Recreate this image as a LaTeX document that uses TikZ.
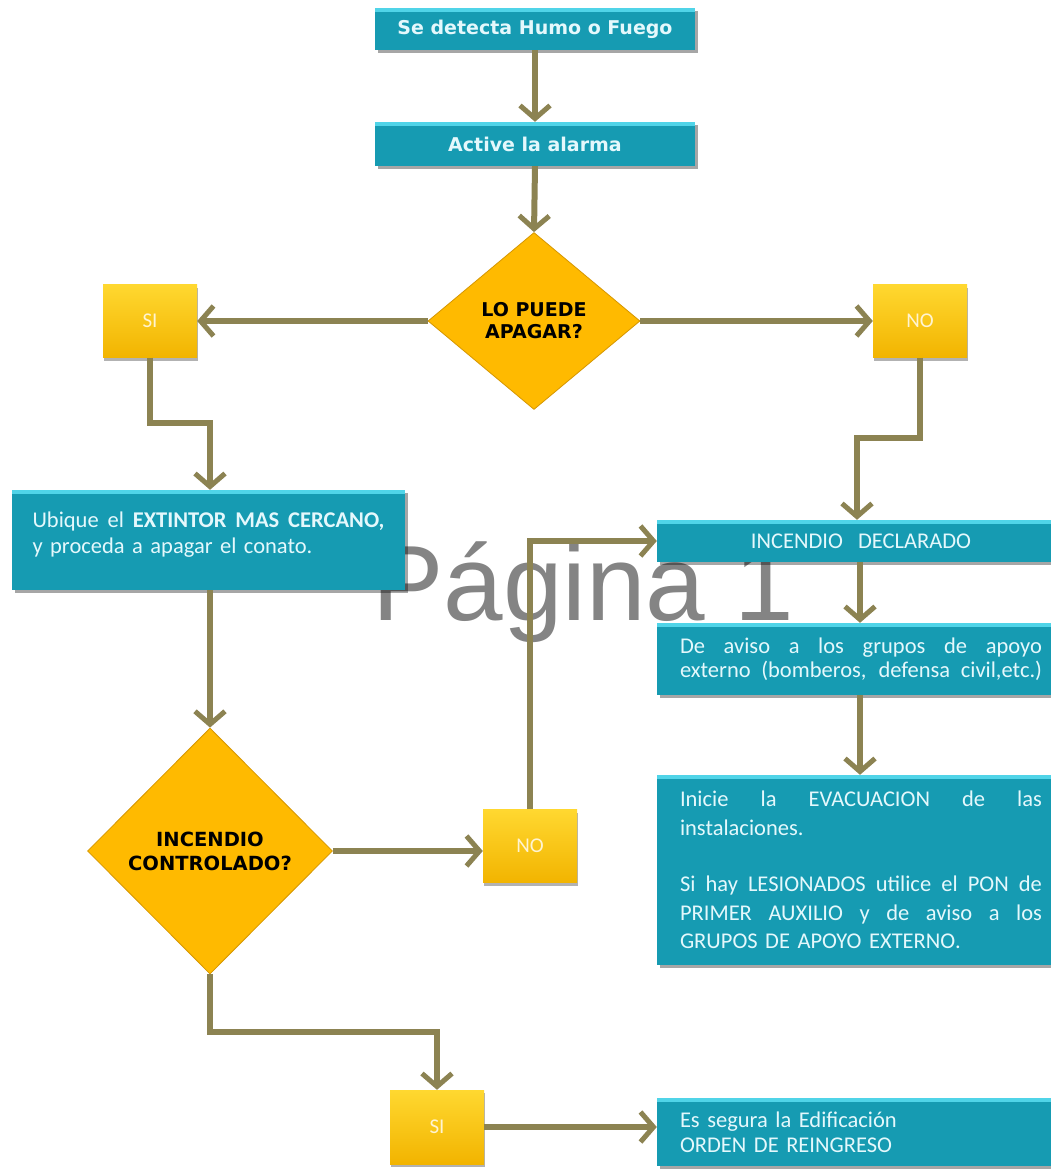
\documentclass[tikz,border=0pt]{standalone}
\usepackage{fontspec}
\setmainfont{Carlito}
\newfontfamily\titlefont{DejaVu Sans}
\newfontfamily\wmfont{Liberation Sans}
\usetikzlibrary{shapes.geometric,arrows.meta,shadows}
\definecolor{tealbox}{RGB}{22,155,178}
\definecolor{tealtop}{RGB}{80,212,232}
\definecolor{yeltop}{RGB}{255,216,48}
\definecolor{yelbot}{RGB}{242,180,0}
\definecolor{diafill}{RGB}{255,186,0}
\definecolor{diaedge}{RGB}{214,150,0}
\definecolor{olive}{RGB}{140,131,82}
\definecolor{paletext}{RGB}{228,248,252}
\definecolor{creamtext}{RGB}{255,244,210}
\definecolor{wmgray}{RGB}{132,132,132}
\newcommand{\jline}[2]{\leavevmode\hbox to #1{\spaceskip=0.22em plus 1fil\relax #2}}
\tikzset{
  tealnode/.style={fill=tealbox, inner sep=0pt, text=paletext,
    path picture={\fill[tealtop] (path picture bounding box.north west) rectangle ([yshift=-4pt]path picture bounding box.north east);},
    drop shadow={shadow xshift=3pt, shadow yshift=-3pt, opacity=0.35, fill=black}},
  titlebox/.style={tealnode, minimum width=320pt, font=\titlefont\bfseries\fontsize{19}{22}\selectfont},
  bodybox/.style={tealnode, minimum width=408pt, text width=362pt, align=left,
    font=\fontsize{22.5}{24}\selectfont},
  yesno/.style={top color=yeltop, bottom color=yelbot, minimum width=94pt, minimum height=73pt,
    inner sep=0pt, text=creamtext, font=\fontsize{21}{22}\selectfont,
    drop shadow={shadow xshift=1pt, shadow yshift=-3pt, opacity=0.3, fill=black}},
  decision/.style={diamond, fill=diafill, draw=diaedge, line width=0.8pt, inner sep=0pt,
    align=center, text=black, font=\titlefont\bfseries\fontsize{19.5}{24}\selectfont},
  arr/.style={draw=olive, line width=6pt, -{Straight Barb[length=13pt,width=30pt,line width=5pt]}}
}
\begin{document}
\begin{tikzpicture}[x=1pt,y=-1pt]
\path[use as bounding box, fill=white] (0,0) rectangle (1051,1170);

% watermark
\node[anchor=base west, inner sep=0pt, text=wmgray, font=\wmfont\fontsize{107}{107}\selectfont] (wm) at (372,620) {Página 1};

% boxes
\node[titlebox, minimum height=42pt] (top) at (535,29) {Se detecta Humo o Fuego};
\node[titlebox, minimum height=44pt] (alarm) at (535,144) {Active la alarma};
\node[decision, minimum width=212pt, minimum height=177pt, font=\titlefont\bfseries\fontsize{19}{22}\selectfont] (d1) at (534,321) {LO PUEDE\\APAGAR?};
\node[yesno] (si1) at (150,321) {SI};
\node[yesno] (no1) at (920,321) {NO};

\node[bodybox, minimum width=393pt, minimum height=100pt, text width=352pt,
      font=\fontsize{22.5}{26}\selectfont] (ubique) at (208.5,540)
  {\jline{352pt}{Ubique el \textbf{EXTINTOR MAS CERCANO,}}\\ y proceda a apagar el conato.\\[-12pt]\mbox{}};
\node[decision, minimum width=245pt, minimum height=246pt] (d2) at (210,851) {INCENDIO\\CONTROLADO?};
\node[yesno] (no2) at (530,846) {NO};

\node[bodybox, minimum height=42pt, align=center] (declarado) at (861,541) {INCENDIO\ \ DECLARADO};
\node[bodybox, minimum height=72pt] (aviso) at (861,659)
  {\jline{362pt}{De aviso a los grupos de apoyo}\\ \jline{362pt}{externo (bomberos, defensa civil,etc.)}};
\node[bodybox, minimum height=190pt, font=\fontsize{22.5}{28.5}\selectfont] (inicie) at (861,870)
  {\jline{362pt}{Inicie la EVACUACION de las}\\ instalaciones.\\[28pt]
   \jline{362pt}{Si hay LESIONADOS utilice el PON de}\\
   \jline{362pt}{PRIMER AUXILIO y de aviso a los}\\
   GRUPOS DE APOYO EXTERNO.};
\node[yesno, minimum height=74pt] (si2) at (437,1127) {SI};
\node[bodybox, minimum height=68pt, font=\fontsize{22.5}{25}\selectfont] (reingreso) at (861,1132)
  {Es segura la Edificación\\ ORDEN\ DE REINGRESO};

% connectors
\coordinate (k1) at (210,423);
\coordinate (k2) at (857,438);
\coordinate (k3) at (210,1032);
\coordinate (xc) at (860,0);

\draw[arr] (top.south) -- (alarm.north);
\draw[arr] (alarm.south) -- (d1.north);
\draw[arr] (d1.west) -- (si1.east);
\draw[arr] (d1.east) -- (no1.west);
\draw[arr] (si1.south) |- (k1) -- (k1 |- ubique.north);
\draw[arr] (no1.south) |- (k2) -- (k2 |- declarado.north);
\draw[arr] (d2.north |- ubique.south) -- (d2.north);
\draw[arr] (d2.east) -- (d2.east -| no2.west);
\draw[arr] (no2.north) |- (declarado.west);
\draw[arr] (xc |- declarado.south) -- (xc |- aviso.north);
\draw[arr] (xc |- aviso.south) -- (xc |- inicie.north);
\draw[arr] (d2.south) |- (k3) -- (k3 -| si2.north) -- (si2.north);
\draw[arr] (si2.east) -- (si2.east -| reingreso.west);
\end{tikzpicture}
\end{document}
